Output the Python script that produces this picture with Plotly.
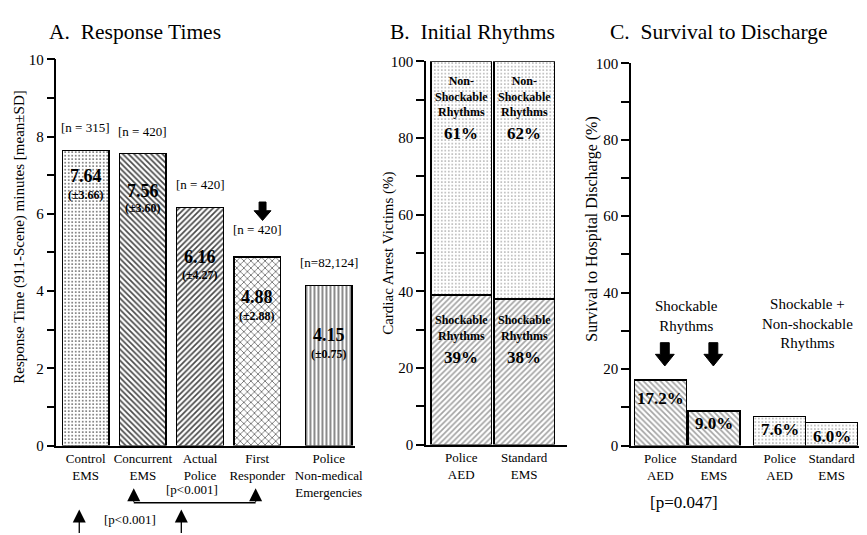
import plotly.graph_objects as go

W, H = 867, 535
FONT = "Liberation Serif"

# ---------------- data ----------------
a_categories = ["Control<br>EMS", "Concurrent<br>EMS", "Actual<br>Police",
                "First<br>Responder", "Police<br>Non-medical<br>Emergencies"]
a_means = [7.64, 7.56, 6.16, 4.88, 4.15]
a_sds = [3.66, 3.60, 4.27, 2.88, 0.75]
a_n_labels = ["[n = 315]", "[n = 420]", "[n = 420]", "[n = 420]", "[n=82,124]"]

b_categories = ["Police<br>AED", "Standard<br>EMS"]
b_shockable = [39, 38]
b_nonshockable = [61, 62]

c_categories = ["Police<br>AED", "Standard<br>EMS", "Police<br>AED", "Standard<br>EMS"]
c_survival = [17.2, 9.0, 7.6, 6.0]

# ---------------- layout helpers (positions / styles) ----------------
a_pos = [0, 1, 2, 3, 4.25]
b_pos = [0, 1]
c_pos = [0, 1, 2.23, 3.2]


def px(x):
    return x / W


def py(y):
    return 1 - y / H


FG = "#484848"
HATCH_SOLID = 0.42
DOT = dict(fg="#6a6a6a", size=3.5, solidity=0.22)
a_shapes = [".", "\\", "/", "x", "|"]
a_fg = [DOT["fg"], FG, FG, FG, FG]
a_sizes = [DOT["size"], 4, 4, 5, 4]
a_solid = [DOT["solidity"], HATCH_SOLID, HATCH_SOLID, 0.25, 0.32]

fig = go.Figure()

fig.add_trace(go.Bar(
    x=a_pos, y=a_means, width=0.815, xaxis="x", yaxis="y", hoverinfo="skip",
    marker=dict(color="white", line=dict(color="black", width=1.5),
                pattern=dict(shape=a_shapes, fgcolor=a_fg, bgcolor="white",
                             size=a_sizes, solidity=a_solid, fillmode="replace")),
))

fig.add_trace(go.Bar(
    x=b_pos, y=b_shockable, width=0.96, xaxis="x2", yaxis="y2", hoverinfo="skip",
    marker=dict(color="white", line=dict(color="black", width=1.5),
                pattern=dict(shape="/", fgcolor=FG, bgcolor="white", size=4,
                             solidity=HATCH_SOLID)),
))
fig.add_trace(go.Bar(
    x=b_pos, y=b_nonshockable, width=0.96, xaxis="x2", yaxis="y2", hoverinfo="skip",
    marker=dict(color="white", line=dict(color="black", width=1.5),
                pattern=dict(shape=".", fgcolor=DOT["fg"], bgcolor="white",
                             size=DOT["size"], solidity=DOT["solidity"])),
))

fig.add_trace(go.Bar(
    x=c_pos, y=c_survival, width=0.97, xaxis="x3", yaxis="y3", hoverinfo="skip",
    marker=dict(color="white", line=dict(color="black", width=1.5),
                pattern=dict(shape=["\\", "\\", ".", "."],
                             fgcolor=[FG, FG, DOT["fg"], DOT["fg"]], bgcolor="white",
                             size=[4, 4, DOT["size"], DOT["size"]],
                             solidity=[HATCH_SOLID, HATCH_SOLID, DOT["solidity"], DOT["solidity"]])),
))

yax_common = dict(showline=True, linecolor="black", linewidth=1.5, ticks="outside",
                  ticklen=8, tickwidth=1.5, tickcolor="black", showgrid=False,
                  zeroline=False, tickfont=dict(size=15, family=FONT, color="black"))
xax_common = dict(showline=True, linecolor="black", linewidth=1.5, ticks="",
                  showgrid=False, zeroline=False,
                  tickfont=dict(size=13, family=FONT, color="black"))

fig.update_layout(
    width=W, height=H, margin=dict(l=0, r=0, t=0, b=0),
    paper_bgcolor="white", plot_bgcolor="white", showlegend=False, barmode="stack",
    font=dict(family=FONT, color="black", size=13),
    xaxis=dict(domain=[px(57), px(358)], range=[-0.511, 4.705], tickmode="array",
               tickvals=a_pos, ticktext=a_categories, anchor="y", **xax_common),
    yaxis=dict(domain=[py(451), py(53)], range=[0, 10], tick0=0, dtick=2, anchor="x",
               minor=dict(dtick=1, ticks="outside", ticklen=8, tickwidth=1.5,
                          tickcolor="black", showgrid=False), **yax_common),
    xaxis2=dict(domain=[px(430), px(572)], range=[-0.559, 1.677], tickmode="array",
                tickvals=b_pos, ticktext=b_categories, anchor="y2", **xax_common),
    yaxis2=dict(domain=[py(450), py(55)], range=[0, 100], tick0=0, dtick=20, anchor="x2",
                minor=dict(dtick=10, ticks="outside", ticklen=8, tickwidth=1.5,
                           tickcolor="black", showgrid=False), **yax_common),
    xaxis3=dict(domain=[px(637), 1.0], range=[-0.546, 3.713], tickmode="array",
                tickvals=c_pos, ticktext=c_categories, anchor="y3", **xax_common),
    yaxis3=dict(domain=[py(451), py(57)], range=[0, 100], tick0=0, dtick=20, anchor="x3",
                minor=dict(dtick=10, ticks="outside", ticklen=8, tickwidth=1.5,
                           tickcolor="black", showgrid=False), **yax_common),
)

ann = []


def text(t, x, y, size=13, bold=False, xanchor="center", angle=0, xref="paper", yref="paper",
         yanchor="middle", yshift=0):
    ann.append(dict(text=(f"<b>{t}</b>" if bold else t), x=x, y=y, xref=xref, yref=yref,
                    xanchor=xanchor, yanchor=yanchor, showarrow=False, textangle=angle,
                    yshift=yshift, font=dict(family=FONT, size=size, color="black")))


# panel titles
text("A.\u00a0 Response Times", px(47), py(25), size=21.5, xanchor="left")
text("B.\u00a0 Initial Rhythms", px(392), py(25), size=21.5, xanchor="left")
text("C.\u00a0 Survival to Discharge", px(614), py(25), size=21.5, xanchor="left")

# y-axis titles
text("Response Time (911-Scene) minutes [mean±SD]", px(20), py(236), size=15, angle=-90)
text("Cardiac Arrest Victims (%)", px(392), py(253), size=15, angle=-90)
text("Survival to Hospital Discharge (%)", px(598), py(228), size=16, angle=-90)

# panel A labels
a_n_shift = [23, 22, 23, 28, 23]
a_val_y = [173, 189, 257, 298, 337]
a_sd_y = [193, 206, 275, 317, 357]
for i in range(len(a_means)):
    text(a_n_labels[i], a_pos[i], a_means[i], size=13, xref="x", yref="y",
         yshift=a_n_shift[i])
    text(f"{a_means[i]:.2f}", a_pos[i], py(a_val_y[i]), size=18, bold=True, xref="x")
    text(f"(±{a_sds[i]:.2f})", a_pos[i], py(a_sd_y[i]), size=12, bold=True, xref="x")

# panel B labels
for i in range(len(b_pos)):
    text("Non-<br>Shockable<br>Rhythms", b_pos[i], py(91), size=12, bold=True, xref="x2")
    text(f"{b_nonshockable[i]}%", b_pos[i], py(129), size=17, bold=True, xref="x2")
    text("Shockable<br>Rhythms", b_pos[i], py(330), size=12, bold=True, xref="x2")
    text(f"{b_shockable[i]}%", b_pos[i], py(360), size=17, bold=True, xref="x2")

# panel C labels
c_val_y = [403, 428, 434, 442]
for i in range(len(c_survival)):
    text(f"{c_survival[i]:.1f}%", c_pos[i], py(c_val_y[i]), size=17, bold=True, xref="x3")
text("Shockable<br>Rhythms", px(693), py(317), size=15)
text("Shockable +<br>Non-shockable<br>Rhythms", px(815), py(325), size=15)
text("[p=0.047]", px(690), py(510), size=17)

# p-value brackets in panel A
text("[p&lt;0.001]", px(194), py(496), size=13)
text("[p&lt;0.001]", px(131), py(527), size=13)
for xp, tip, tail in [(135, 495, 15), (258, 495, 15), (80, 517, 25), (183, 517, 25)]:
    ann.append(dict(x=px(xp), y=py(tip), xref="paper", yref="paper", text="", showarrow=True,
                    ax=0, ay=tail, arrowhead=2, arrowsize=2, arrowwidth=1.3,
                    arrowcolor="black", standoff=0))

shapes = [dict(type="line", xref="paper", yref="paper", x0=px(135), x1=px(258),
               y0=py(510), y1=py(510), line=dict(color="black", width=1.3))]


def down_arrow(cx, top, head_start, tip, shw, hhw):
    pts = [(cx - shw, top), (cx + shw, top), (cx + shw, head_start), (cx + hhw, head_start),
           (cx, tip), (cx - hhw, head_start), (cx - shw, head_start)]
    path = "M " + " L ".join(f"{px(x):.5f},{py(y):.5f}" for x, y in pts) + " Z"
    return dict(type="path", xref="paper", yref="paper", path=path, fillcolor="black",
                line=dict(color="black", width=1))


shapes.append(down_arrow(265, 200, 209, 219, 3.5, 8.5))
shapes.append(down_arrow(671, 345, 357, 369, 4.5, 9.5))
shapes.append(down_arrow(720, 345, 357, 369, 4.5, 9.5))

fig.update_layout(annotations=ann, shapes=shapes)
fig.write_html("out.html", config={"displayModeBar": False},
               post_script="document.body.style.margin='0';document.body.style.overflow='hidden';")
